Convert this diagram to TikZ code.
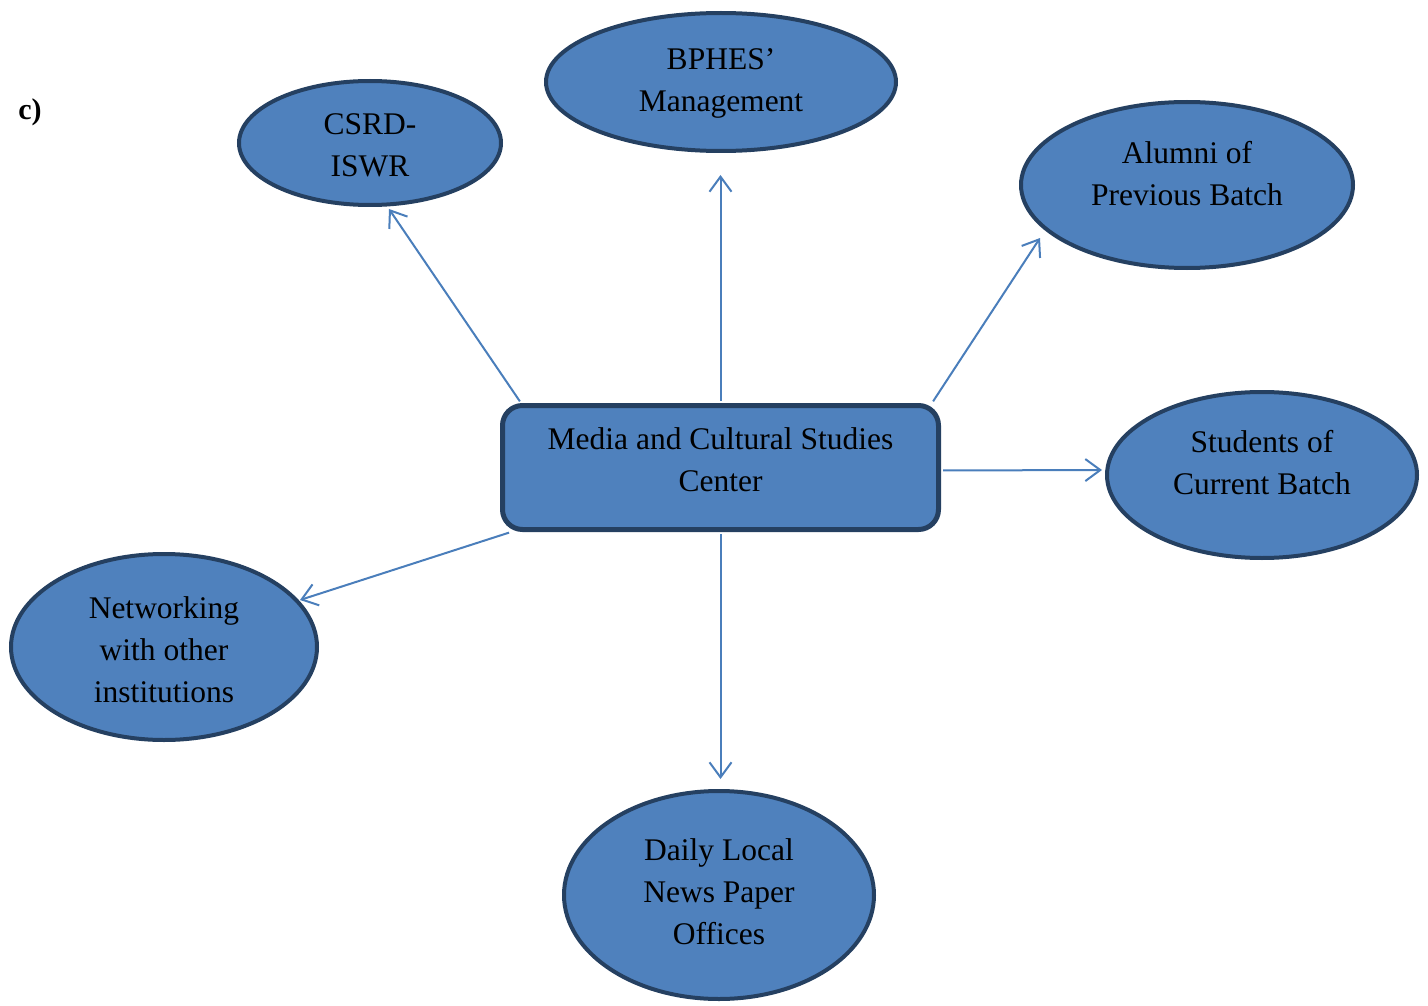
\documentclass[tikz,border=0pt]{standalone}
\usepackage{fontspec}
\setmainfont{Liberation Serif}
\usetikzlibrary{arrows.meta,calc,shapes.geometric}
\definecolor{fillblue}{HTML}{4F81BD}
\definecolor{edgeblue}{HTML}{254061}
\definecolor{linkblue}{HTML}{4A7EBB}

\begin{document}
\begin{tikzpicture}[x=1pt,y=-1pt,
  bubble/.style={ellipse, draw=edgeblue, fill=fillblue, line width=4pt, inner sep=0pt},
  hub/.style={rectangle, rounded corners=20pt, draw=edgeblue, fill=fillblue, line width=5pt, inner sep=0pt},
  txt/.style={font=\fontsize{31.5}{42}\selectfont, align=center, text=black, inner sep=0pt},
  link/.style={draw=linkblue, line width=2pt, shorten <=2pt,
               -{Straight Barb[length=15pt,width=22pt]}},
]
\useasboundingbox (0,0) rectangle (1428,1006);

% panel tag
\node[font=\fontsize{30}{36}\selectfont\bfseries, inner sep=0pt] (tag) at (30,112) {c)};

% central hub
\node[hub, minimum width=436pt, minimum height=124pt] (mc) at (720.5,467.5) {};
\node[txt] (mctext) at ($(mc.center)+(0,-8)$) {Media and Cultural Studies\\Center};

% surrounding partners
\node[bubble, minimum width=262pt, minimum height=124pt,
      label={[txt, yshift=-2pt]center:{CSRD-\\ISWR}}] (csrd) at (370,143) {};
\node[bubble, minimum width=350pt, minimum height=138pt,
      label={[txt, yshift=-1pt]center:{BPHES’\\Management}}] (bphes) at (721,82) {};
\node[bubble, minimum width=332pt, minimum height=166pt,
      label={[txt, yshift=11pt]center:{Alumni of\\Previous Batch}}] (alumni) at (1187,185) {};
\node[bubble, minimum width=310pt, minimum height=166pt,
      label={[txt, yshift=12pt]center:{Students of\\Current Batch}}] (students) at (1262,475) {};
\node[bubble, minimum width=306pt, minimum height=186pt,
      label={[txt, yshift=-3pt]center:{Networking\\with other\\institutions}}] (net) at (164,647) {};
\node[bubble, minimum width=310pt, minimum height=208pt,
      label={[txt, yshift=3.5pt]center:{Daily Local\\News Paper\\Offices}}] (daily) at (719,895) {};

% connectors from the hub
\draw[link] ($(mc.north west)+(21,0)$) -- ($(csrd.center)+(19,66)$);
\draw[link] (mc.north) -- ($(mc.north |- bphes.south)+(0,22)$);
\draw[link] ($(mc.north east)+(-9,0)$) -- ($(alumni.center)+(-147,53)$);
\draw[link] ($(mc.east)+(0,3)$) -- ($(students.center)+(-160,-5)$);
\draw[link] ($(mc.south west)+(11,0)$) -- ($(net.center)+(136,-47)$);
\draw[link] (mc.south) -- ($(mc.south |- daily.north)+(0,-10)$);
\end{tikzpicture}
\end{document}
